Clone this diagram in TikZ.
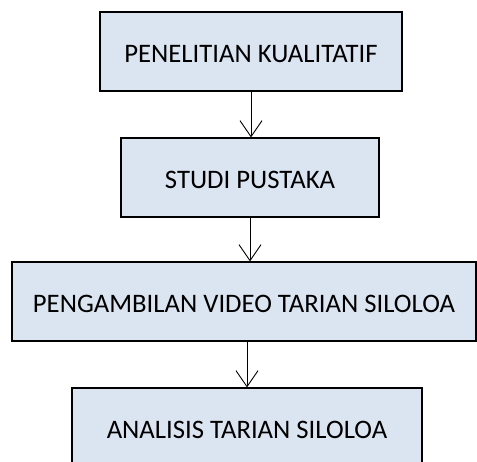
\documentclass[tikz,border=0pt]{standalone}
\usepackage{fontspec}
\setmainfont{Carlito}
\usetikzlibrary{arrows.meta}
\definecolor{boxfill}{HTML}{DBE5F1}

\begin{document}
\begin{tikzpicture}[x=1pt, y=-1pt,
    stepbox/.style={draw=black, line width=1.1pt, fill=boxfill, inner sep=0pt,
      minimum height=79pt, text height=22pt, text depth=0pt,
      font=\fontsize{26.7}{30}\selectfont},
    flow/.style={line width=0.9pt, -{Straight Barb[length=16pt, width=22pt]}}]
    \useasboundingbox (0,0) rectangle (477,461);
    \clip (0,0) rectangle (477,461);

    \node[stepbox, minimum width=302pt] (b1) at (251,51.5) {PENELITIAN KUALITATIF};
    \node[stepbox, minimum width=258pt] (b2) at (250,177.5) {STUDI PUSTAKA};
    \node[stepbox, minimum width=464pt] (b3) at (244,301.5) {PENGAMBILAN VIDEO TARIAN SILOLOA};
    \node[stepbox, minimum width=350pt] (b4) at (247,427.5) {ANALISIS TARIAN SILOLOA};

    \draw[flow] (b1.south) -- (b1.south |- b2.north);
    \draw[flow] (b2.south) -- (b2.south |- b3.north);
    \draw[flow] (b4.north |- b3.south) -- (b4.north);
\end{tikzpicture}
\end{document}
